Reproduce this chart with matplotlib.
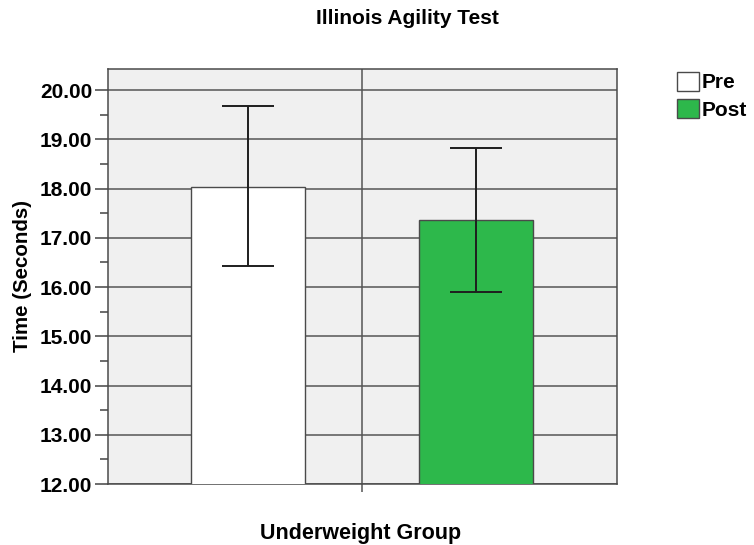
import matplotlib
matplotlib.use("Agg")
from matplotlib import pyplot as plt
from matplotlib.ticker import MultipleLocator, FixedLocator
import numpy as np

groups = ["Pre", "Post"]
means = [18.03, 17.36]
upper = [19.68, 18.83]
lower = [16.43, 15.89]
colors = ["#ffffff", "#2db84b"]
yticks = [12, 13, 14, 15, 16, 17, 18, 19, 20]

plt.rcParams['font.family'] = ['Liberation Sans', 'DejaVu Sans']
plt.rcParams['font.weight'] = 'bold'

fig = plt.figure(figsize=(7.54, 5.45), dpi=100)
ax = fig.add_axes([108/754, 1-484/545, (617-108)/754, (484-69)/545])
ax.set_facecolor("#f0f0f0")

pos = np.array([-1.0, 1.0])
yerr = [np.array(means) - np.array(lower), np.array(upper) - np.array(means)]
bars = ax.bar(pos, means, width=1.0, bottom=0, color=colors, edgecolor="#4a4a4a",
              linewidth=1.0, zorder=3)
ax.errorbar(pos, means, yerr=yerr, fmt='none', ecolor="#1e1e1e", elinewidth=1.4,
            capsize=18.7, capthick=1.4, zorder=4)

ax.set_ylim(12, 20.43)
ax.set_xlim(-2.233, 2.242)
ax.yaxis.set_major_locator(FixedLocator(yticks))
ax.yaxis.set_minor_locator(MultipleLocator(0.5))
ax.set_yticklabels(["%.2f" % v for v in yticks], fontsize=15, fontweight='bold')
ax.set_xticks([0])
ax.set_xticklabels([""])
ax.tick_params(axis='y', which='major', length=9.4, width=1.1, color="#444444", pad=2)
ax.tick_params(axis='y', which='minor', length=5.8, width=1.1, color="#444444")
ax.tick_params(axis='x', length=6, width=1.1, color="#555555")

ax.set_axisbelow(True)
ax.grid(True, which='major', color="#555555", linewidth=1.1, zorder=1)
for s in ax.spines.values():
    s.set_color("#4a4a4a")
    s.set_linewidth(1.1)

ax.legend(bars, groups, loc='upper left', bbox_to_anchor=(677/754, 1-72/545),
          bbox_transform=fig.transFigure, frameon=False, fontsize=15,
          handlelength=1.05, handleheight=1.0, handletextpad=0.15,
          labelspacing=0.32, borderpad=0, borderaxespad=0)

fig.text(407/754, 1-18/545, "Illinois Agility Test", ha='center', va='center',
         fontsize=15, fontweight='bold')
fig.text(361/754, 1-533/545, "Underweight Group", ha='center', va='center',
         fontsize=15.5, fontweight='bold')
fig.text(23/754, 1-276.5/545, "Time (Seconds)", ha='center', va='center',
         rotation=90, fontsize=14.8, fontweight='bold')

plt.savefig("out.png", dpi=100)
